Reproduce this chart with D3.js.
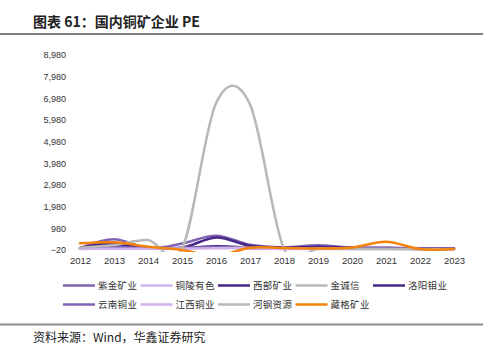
<!DOCTYPE html>
<html>
<head>
<meta charset="utf-8">
<script src="https://cdn.jsdelivr.net/npm/d3@7/dist/d3.min.js"></script>
<style>
  html, body { margin: 0; padding: 0; background: #fff; }
  svg { display: block; }
</style>
</head>
<body>
<svg id="chart" width="490" height="356"></svg>
<script>
const years = ["2012","2013","2014","2015","2016","2017","2018","2019","2020","2021","2022","2023"];
const yTicks = [-20, 980, 1980, 2980, 3980, 4980, 5980, 6980, 7980, 8980];

const seriesNames = ["紫金矿业","铜陵有色","西部矿业","金诚信","洛阳钼业","云南铜业","江西铜业","河钢资源","藏格矿业"];
const zijin    = [60, 480, 60, 280, 640, 220, 100, 200, 90, 80, 60, 50];
const tongling = [40, 50, 60, 60, 80, 90, 40, 40, 40, 40, 30, 30];
const xibu     = [60, 200, 80, 60, 150, 100, 60, 60, 60, 50, 40, 40];
const jinchengxin = [null, null, null, 60, 80, 90, 40, 60, 70, 40, 30, 30];
const luoyang  = [70, 300, 100, 80, 560, 180, 90, 130, 80, 70, 50, 50];
const yunnan   = [40, 120, 50, 80, 100, 60, 40, 60, 50, 40, 30, 30];
const jiangxi  = [30, 40, 40, 50, 60, 70, 30, 30, 30, 30, 25, 25];
const hegang   = [85, 210, 440, 30, 6750, 6700, 30, 40, 30, 30, 20, 20];
const zangge   = [290, 335, 130, -20, -300, 85, 70, 50, 95, 360, 25, 25];

const seriesValues = [zijin, tongling, xibu, jinchengxin, luoyang, yunnan, jiangxi, hegang, zangge];
const seriesColors = ["#8064b4","#d2b2ee","#48298a","#b8b8b8","#48298a","#8064b4","#d2b2ee","#b8b8b8","#f5820a"];

const svg = d3.select("#chart");

// title
svg.append("text").attr("x", 33).attr("y", 27)
  .attr("font-family", "'Noto Sans CJK SC', sans-serif").attr("font-weight", "bold")
  .attr("font-size", 14).attr("fill", "#222").text("图表 61：国内铜矿企业 PE");
svg.append("line").attr("x1", 0).attr("x2", 483).attr("y1", 34).attr("y2", 34)
  .attr("stroke", "#555").attr("stroke-width", 1.5);

const x = d3.scalePoint().domain(years).range([80, 454]);
const y = d3.scaleLinear().domain([-20, 8980]).range([250, 55]);

// y axis labels
const yAxis = d3.axisLeft(y).tickValues(yTicks).tickSize(0).tickPadding(0)
  .tickFormat(d3.format(","));
const gy = svg.append("g").attr("transform", "translate(66,0)").call(yAxis);
gy.select(".domain").remove();
gy.selectAll("text").attr("font-family", "'Liberation Sans', Arial, sans-serif")
  .attr("font-size", 9).attr("fill", "#333");

// x axis labels
const xAxis = d3.axisBottom(x).tickSize(0).tickPadding(0);
const gx = svg.append("g").attr("transform", "translate(0,257)").call(xAxis);
gx.select(".domain").remove();
gx.selectAll("text").attr("font-family", "'Liberation Sans', Arial, sans-serif")
  .attr("font-size", 9.5).attr("fill", "#333");

// clip
svg.append("clipPath").attr("id", "plotclip").append("rect")
  .attr("x", 60).attr("y", 50).attr("width", 420).attr("height", 202);

const line = d3.line()
  .defined(d => d.v !== null)
  .x(d => x(d.year))
  .y(d => y(d.v))
  .curve(d3.curveCatmullRom.alpha(0));

const gl = svg.append("g").attr("clip-path", "url(#plotclip)");
seriesNames.forEach((name, i) => {
  const data = years.map((yr, j) => ({year: yr, v: seriesValues[i][j]}));
  gl.append("path").datum(data).attr("d", line)
    .attr("fill", "none").attr("stroke", seriesColors[i])
    .attr("stroke-width", 2.5).attr("stroke-linejoin", "round").attr("stroke-linecap", "round");
});

// legend
const legend = svg.append("g");
seriesNames.forEach((name, i) => {
  const col = i < 5 ? i : i - 5;
  const row = i < 5 ? 0 : 1;
  const lx = 63 + col * 77.5;
  const ly = row === 0 ? 285.5 : 304.5;
  legend.append("line").attr("x1", lx).attr("x2", lx + 32).attr("y1", ly).attr("y2", ly)
    .attr("stroke", seriesColors[i]).attr("stroke-width", 2.5);
  legend.append("text").attr("x", lx + 35).attr("y", ly + 3.5)
    .attr("font-family", "'Noto Sans CJK SC', sans-serif").attr("font-size", 9.5)
    .attr("fill", "#333").attr("letter-spacing", 0.3).text(name);
});

// bottom line and source
svg.append("line").attr("x1", 0).attr("x2", 483).attr("y1", 324.5).attr("y2", 324.5)
  .attr("stroke", "#8c8c8c").attr("stroke-width", 2);
svg.append("text").attr("x", 33).attr("y", 342)
  .attr("font-family", "'Noto Sans CJK SC', sans-serif")
  .attr("font-size", 12).attr("fill", "#222").text("资料来源：Wind，华鑫证券研究");
</script>
</body>
</html>
